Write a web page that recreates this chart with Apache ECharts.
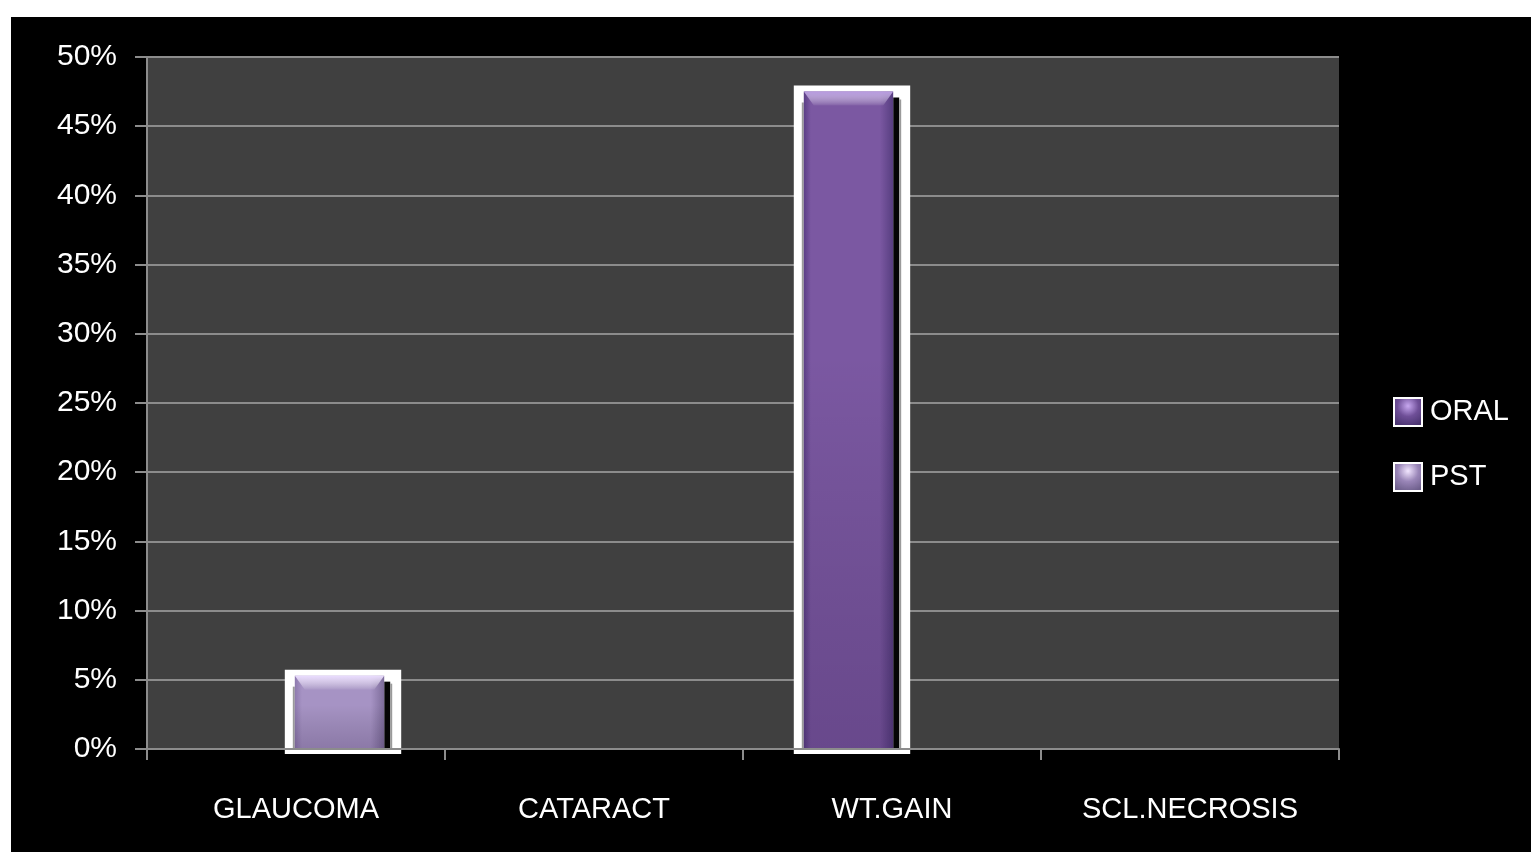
<!DOCTYPE html>
<html>
<head>
<meta charset="utf-8">
<style>
  html, body { margin: 0; padding: 0; background: #ffffff; width: 1531px; height: 852px; overflow: hidden; }
  #chart { position: absolute; left: 11px; top: 17px; width: 1520px; height: 835px; background: #000000; }
</style>
<script src="https://cdn.jsdelivr.net/npm/echarts@6/dist/echarts.min.js"></script>
</head>
<body>
<div id="chart"></div>
<script>
// Side effects by route of steroid administration (share of patients)
const categories = ['GLAUCOMA', 'CATARACT', 'WT.GAIN', 'SCL.NECROSIS'];
const seriesNames = ['ORAL', 'PST'];
const oralValues = [0, 0, 47.5, 0];
const pstValues = [5.3, 0, 0, 0];
const yTicks = [0, 5, 10, 15, 20, 25, 30, 35, 40, 45, 50];

const FONT = "'Liberation Sans', Arial, sans-serif";

const palettes = {
  ORAL: { left: '#5b3f86', mid: '#7b58a2', right: '#573e80', top: '#b79ae0' },
  PST:  { left: '#8e7aae', mid: '#a693c4', right: '#7d6c9a', top: '#eadcff' }
};

// Bars are drawn as boxed 3D-style columns; side: -1 = left slot, +1 = right slot
function makeRenderer(name, side) {
  const pal = palettes[name];
  return function (params, api) {
    const v = api.value(1);
    if (!v) return null;
    const idx = api.value(0);
    const base = api.coord([idx, 0]);
    const top = api.coord([idx, v]);
    const band = api.size([1, 0])[0];
    const w = band * 0.30;
    const cx = base[0] + side * band * 0.146;
    const x0 = cx - w / 2;
    const x1 = cx + w / 2;
    const y0 = top[1];
    const y1 = base[1];
    const h = y1 - y0;
    return {
      type: 'group',
      children: [
        { type: 'rect', shape: { x: x0 - 10, y: y0 - 6, width: w + 27, height: h + 11 }, style: { fill: '#ffffff' } },
        { type: 'rect', shape: { x: x0 - 2, y: y0 + 11, width: 2, height: h - 11 }, style: { fill: '#9a9a9a' } },
        { type: 'rect', shape: { x: x1, y: y0 + 6, width: 6, height: h - 6 }, style: { fill: '#050505' } },
        { type: 'rect', shape: { x: x1 + 6, y: y0 + 8, width: 2, height: h - 8 }, style: { fill: '#9a9a9a' } },
        {
          type: 'rect', shape: { x: x0, y: y0, width: w, height: h },
          style: {
            fill: new echarts.graphic.LinearGradient(0, 0, 1, 0, [
              { offset: 0, color: pal.left },
              { offset: 0.08, color: pal.mid },
              { offset: 0.85, color: pal.mid },
              { offset: 1, color: pal.right }
            ])
          }
        },
        {
          type: 'rect', shape: { x: x0, y: y0 + h * 0.4, width: w, height: h * 0.6 },
          style: {
            fill: new echarts.graphic.LinearGradient(0, 0, 0, 1, [
              { offset: 0, color: 'rgba(0,0,0,0)' },
              { offset: 1, color: 'rgba(20,0,40,0.18)' }
            ])
          }
        },
        {
          type: 'polygon',
          shape: { points: [[x0, y0], [x1, y0], [x1 - 10, y0 + 14], [x0 + 10, y0 + 14]] },
          style: {
            fill: new echarts.graphic.LinearGradient(0, 0, 0, 1, [
              { offset: 0, color: pal.top },
              { offset: 1, color: 'rgba(255,255,255,0.05)' }
            ])
          }
        }
      ]
    };
  };
}

function toData(values) {
  return values.map((v, i) => [i, v]);
}

const chart = echarts.init(document.getElementById('chart'), null, { renderer: 'canvas' });

chart.setOption({
  backgroundColor: '#000000',
  animation: false,
  textStyle: { fontFamily: FONT },
  grid: {
    left: 136, top: 40, right: 192, bottom: 103,
    show: true, backgroundColor: '#404040', borderWidth: 0
  },
  legend: {
    orient: 'vertical',
    left: 1377,
    top: 375,
    itemWidth: 28,
    itemHeight: 28,
    itemGap: 35,
    icon: 'rect',
    textStyle: { color: '#ffffff', fontSize: 29, fontFamily: FONT, padding: [0, 0, 0, 3] },
    data: [
      {
        name: 'ORAL',
        itemStyle: {
          color: new echarts.graphic.RadialGradient(0.5, 0.3, 0.7, [
            { offset: 0, color: '#c7a8f0' }, { offset: 0.5, color: '#6f4f98' }, { offset: 1, color: '#4a3470' }
          ]),
          borderColor: '#ffffff', borderWidth: 2
        }
      },
      {
        name: 'PST',
        itemStyle: {
          color: new echarts.graphic.RadialGradient(0.5, 0.3, 0.7, [
            { offset: 0, color: '#f2e6ff' }, { offset: 0.5, color: '#9a86b8' }, { offset: 1, color: '#6e5f8c' }
          ]),
          borderColor: '#ffffff', borderWidth: 2
        }
      }
    ]
  },
  xAxis: {
    type: 'category',
    data: categories,
    z: 5,
    axisLine: { show: true, lineStyle: { color: '#8c8c8c', width: 2 } },
    axisTick: { show: true, interval: 0, length: 11, alignWithLabel: false, lineStyle: { color: '#8c8c8c', width: 2 } },
    axisLabel: { color: '#ffffff', fontSize: 29, fontFamily: FONT, margin: 46, interval: 0 },
    splitLine: { show: false }
  },
  yAxis: {
    type: 'value',
    min: yTicks[0],
    max: yTicks[yTicks.length - 1],
    interval: 5,
    axisLine: { show: true, lineStyle: { color: '#8c8c8c', width: 2 } },
    axisTick: { show: true, length: 12, lineStyle: { color: '#8c8c8c', width: 2 } },
    axisLabel: { color: '#ffffff', fontSize: 30, fontFamily: FONT, margin: 30, formatter: '{value}%' },
    splitLine: { show: true, lineStyle: { color: '#8c8c8c', width: 2 } }
  },
  series: [
    {
      name: seriesNames[0], type: 'custom', z: 3,
      itemStyle: { color: '#6f4f98' },
      renderItem: makeRenderer('ORAL', -1),
      encode: { x: 0, y: 1 },
      data: toData(oralValues)
    },
    {
      name: seriesNames[1], type: 'custom', z: 3,
      itemStyle: { color: '#9a86b8' },
      renderItem: makeRenderer('PST', 1),
      encode: { x: 0, y: 1 },
      data: toData(pstValues)
    }
  ]
});
</script>
</body>
</html>
